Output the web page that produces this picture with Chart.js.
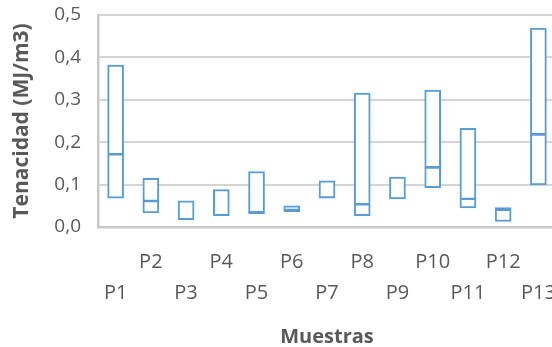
<!DOCTYPE html>
<html>
<head>
<meta charset="utf-8">
<script src="https://cdn.jsdelivr.net/npm/chart.js@4/dist/chart.umd.min.js"></script>
<style>
  body { margin: 0; overflow: hidden; background: #fff; }
  #wrap { width: 556px; height: 347px; position: relative; }
</style>
</head>
<body>
<div id="wrap"><canvas id="chart"></canvas></div>
<script>
let muestras = ["P1", "P2", "P3", "P4", "P5", "P6", "P7", "P8", "P9", "P10", "P11", "P12", "P13"];
let minimo = [0.068, 0.033, 0.017, 0.027, 0.031, 0.036, 0.068, 0.027, 0.066, 0.093, 0.045, 0.013, 0.099];
let medio = [0.174, 0.064, 0.017, 0.030, 0.037, 0.043, 0.072, 0.056, 0.069, 0.143, 0.069, 0.043, 0.221];
let maximo = [0.382, 0.115, 0.062, 0.088, 0.131, 0.050, 0.109, 0.316, 0.118, 0.323, 0.233, 0.046, 0.469];

let gray = "#595959";
let blue = "#5b9bd5";

// whole box from min to max, and a bar from min to the middle value
// that only draws its top edge (the middle line)
let caja = muestras.map((m, i) => [minimo[i], maximo[i]]);
let lineaMedia = muestras.map((m, i) => [minimo[i], medio[i]]);

let lineChart = document.getElementById("chart");
new Chart(lineChart, {
  type: "bar",
  data: {
    labels: muestras,
    datasets: [
      {
        data: caja,
        order: 2,
        backgroundColor: "#ffffff",
        borderColor: blue,
        borderWidth: 2,
        borderSkipped: false,
        barThickness: 16,
        grouped: false
      },
      {
        data: lineaMedia,
        order: 1,
        backgroundColor: "rgba(0,0,0,0)",
        borderColor: blue,
        borderWidth: { top: 2, left: 0, right: 0, bottom: 0 },
        borderSkipped: false,
        barThickness: 16,
        grouped: false
      }
    ]
  },
  options: {
    responsive: true,
    maintainAspectRatio: false,
    animation: false,
    layout: { padding: { top: 15, right: 0, bottom: 0, left: 0 } },
    plugins: {
      legend: { display: false },
      tooltip: { enabled: false }
    },
    scales: {
      x: {
        grid: { drawOnChartArea: false, drawTicks: false },
        border: { display: true, color: "#c8c8c8", width: 2.5 },
        ticks: {
          autoSkip: false,
          maxRotation: 0,
          minRotation: 0,
          padding: 19.5,
          color: gray,
          font: { family: "Open Sans", size: 20, lineHeight: "31px" },
          callback: function (value, index) {
            let label = muestras[index];
            return index % 2 === 0 ? ["", label] : [label, ""];
          }
        },
        title: {
          display: true,
          text: "Muestras",
          color: gray,
          padding: { top: 18.5, bottom: 0 },
          font: { family: "Open Sans", size: 20, weight: "bold", lineHeight: 1 }
        },
        afterFit: function (scale) {
          scale.height = 120;
          scale.paddingLeft = 0;
          scale.paddingRight = 0;
        }
      },
      y: {
        min: 0,
        max: 0.5,
        grid: { color: "#d4d4d4", lineWidth: 2, drawTicks: false },
        border: { display: true, color: "#c8c8c8", width: 2.5 },
        ticks: {
          stepSize: 0.1,
          padding: 17,
          color: gray,
          font: { family: "Open Sans", size: 19 },
          callback: function (value) {
            return value.toFixed(1).replace(".", ",");
          }
        },
        title: {
          display: true,
          text: "Tenacidad (MJ/m3)",
          color: gray,
          padding: { top: 9, bottom: 0 },
          font: { family: "Open Sans", size: 21, weight: "bold", lineHeight: 1.2 }
        },
        afterFit: function (scale) {
          scale.width = 98;
          scale.paddingTop = 15;
          scale.paddingBottom = 0;
        }
      }
    }
  }
});
</script>
</body>
</html>
